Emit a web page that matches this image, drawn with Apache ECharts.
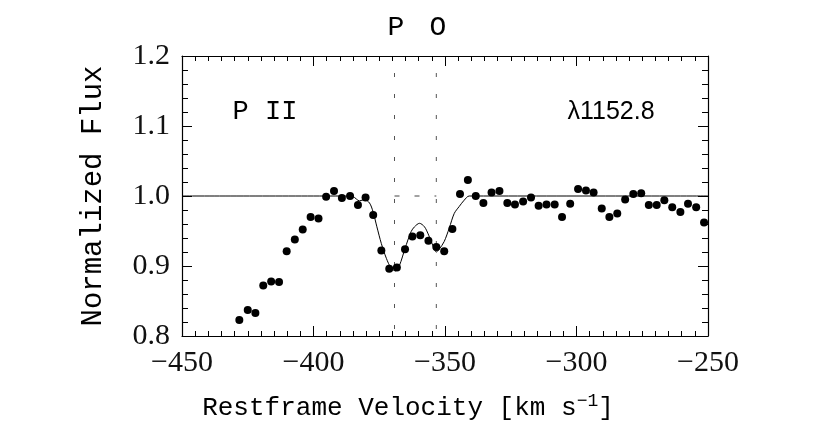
<!DOCTYPE html>
<html>
<head>
<meta charset="utf-8">
<script src="https://cdn.jsdelivr.net/npm/echarts@6/dist/echarts.min.js"></script>
<style>
  html, body { margin: 0; padding: 0; background: #fff; }
  #chart { width: 827px; height: 425px; }
</style>
</head>
<body>
<div id="chart"></div>
<script>
// measured points (velocity km/s, normalized flux)
var pointVel = [-428.2, -425.0, -422.1, -419.1, -416.1, -413.1, -410.2, -407.1, -404.1, -401.1,
    -398.1, -395.2, -392.2, -389.2, -386.1, -383.1, -380.2, -377.3, -374.2, -371.2,
    -368.3, -365.2, -362.4, -359.4, -356.3, -353.3, -350.3, -347.2, -344.3, -341.3,
    -338.3, -335.4, -332.3, -329.3, -326.3, -323.4, -320.3, -317.3, -314.4, -311.4,
    -308.3, -305.5, -302.4, -299.4, -296.4, -293.5, -290.4, -287.5, -284.5, -281.5,
    -278.4, -275.4, -272.5, -269.5, -266.6, -263.6, -260.5, -257.6, -254.5, -251.5]
var pointFlux = [0.823, 0.837, 0.833, 0.872, 0.878, 0.877, 0.921, 0.938, 0.952, 0.970,
    0.968, 0.999, 1.007, 0.997, 1.000, 0.987, 0.998, 0.973, 0.922, 0.896,
    0.898, 0.924, 0.942, 0.944, 0.936, 0.927, 0.921, 0.953, 1.003, 1.023,
    1.000, 0.990, 1.005, 1.007, 0.990, 0.988, 0.992, 0.998, 0.986, 0.988,
    0.988, 0.970, 0.989, 1.010, 1.008, 1.005, 0.982, 0.970, 0.975, 0.995,
    1.003, 1.004, 0.987, 0.987, 0.994, 0.984, 0.977, 0.989, 0.984, 0.962]

// model fit profile
var fitVel = [-450, -390, -385, -382.5, -380.6, -378.7, -377.4, -375.9, -374.2, -372.3,
    -370.5, -368.8, -367.3, -365.2, -362.9, -361.6, -359.7, -357.8, -356.2, -354.7,
    -353.3, -352.2, -350.3, -348.4, -346.5, -344.6, -342.7, -340.8, -250]
var fitFlux = [1, 1, 0.999, 0.993, 0.995, 0.990, 0.978, 0.956, 0.932, 0.911,
    0.897, 0.893, 0.901, 0.925, 0.949, 0.956, 0.961, 0.956, 0.944, 0.930,
    0.920, 0.924, 0.935, 0.954, 0.975, 0.985, 0.994, 1, 1]

// component velocities (dashed markers)
var compVel = [-369.2, -353.3]
var compNames = ['P', 'O']

var xRange = [-450, -250]
var yRange = [0.8, 1.2]

var chart = echarts.init(document.getElementById('chart'))

function zip(a, b) {
    return a.map(function (v, i) { return [v, b[i]] })
}

var axisLineStyle = { color: '#000', width: 1.2 }
var monoFont = 'Liberation Mono'

function xAxisDef(pos, showLabel) {
    return {
        type: 'value',
        position: pos,
        min: xRange[0],
        max: xRange[1],
        interval: 50,
        axisLine: { show: true, onZero: false, lineStyle: axisLineStyle },
        axisTick: { show: true, inside: true, length: 10, lineStyle: { color: '#000', width: 1 } },
        minorTick: { show: true, splitNumber: 10, length: 5, lineStyle: { color: '#000', width: 1 } },
        splitLine: { show: false },
        axisLabel: {
            show: showLabel,
            margin: 12,
            fontFamily: 'Liberation Serif',
            fontSize: 30,
            color: '#111',
            formatter: function (v) { return v < 0 ? '\u2212' + Math.abs(v) : String(v) },
        },
    }
}

function yAxisDef(pos, showLabel) {
    return {
        type: 'value',
        position: pos,
        min: yRange[0],
        max: yRange[1],
        interval: 0.1,
        axisLine: { show: true, onZero: false, lineStyle: axisLineStyle },
        axisTick: { show: true, inside: true, length: 10, lineStyle: { color: '#000', width: 1 } },
        minorTick: { show: true, splitNumber: 5, length: 6, lineStyle: { color: '#000', width: 1 } },
        splitLine: { show: false },
        axisLabel: {
            show: showLabel,
            margin: 12,
            fontFamily: 'Liberation Serif',
            fontSize: 30,
            color: '#111',
            formatter: function (v) { return v.toFixed(1) },
        },
    }
}

var series = [
    {
        name: 'fit',
        type: 'line',
        data: zip(fitVel, fitFlux),
        smooth: 0.3,
        showSymbol: false,
        lineStyle: { color: '#000', width: 1 },
        z: 2,
    },
    {
        name: 'continuum',
        type: 'line',
        data: [[compVel[0], 1], [compVel[1], 1]],
        showSymbol: false,
        lineStyle: { color: '#444', width: 1, type: [5, 15] },
        z: 2,
    },
    {
        name: 'points',
        type: 'scatter',
        data: zip(pointVel, pointFlux),
        symbol: 'circle',
        symbolSize: 8,
        itemStyle: { color: '#000', opacity: 1 },
        z: 3,
    },
]
compVel.forEach(function (v) {
    series.push({
        type: 'line',
        data: [[v, yRange[0]], [v, yRange[1]]],
        showSymbol: false,
        lineStyle: { color: '#555', width: 1, type: [4, 17], dashOffset: 14 },
        z: 1,
    })
})

var option = {
    animation: false,
    backgroundColor: '#fff',
    grid: { left: 182, right: 119, top: 56, bottom: 89 },
    xAxis: [xAxisDef('bottom', true), xAxisDef('top', false)],
    yAxis: [yAxisDef('left', true), yAxisDef('right', false)],
    series: series,
    graphic: [
        {
            type: 'text', x: 408, y: 408,
            style: {
                align: 'center', verticalAlign: 'middle',
                text: 'Restframe Velocity [km s{sup|\u22121}]',
                font: '26px ' + monoFont, fill: '#000',
                rich: { sup: { fontFamily: monoFont, fontSize: 18, verticalAlign: 'top', padding: [0, 0, 13, 0] } },
            },
        },
        {
            type: 'text', rotation: Math.PI / 2, x: 93, y: 196,
            style: {
                text: 'Normalized Flux', align: 'center', verticalAlign: 'middle',
                font: '29px ' + monoFont, fill: '#000',
            },
        },
        {
            type: 'text', x: 265, y: 112,
            style: { text: 'P II', align: 'center', verticalAlign: 'middle', font: '27px ' + monoFont, fill: '#000' },
        },
        {
            type: 'text', x: 611, y: 112,
            style: { text: '\u03bb1152.8', align: 'center', verticalAlign: 'middle', font: '25px Liberation Sans', fill: '#000' },
        },
        {
            type: 'text', x: 396, y: 28,
            style: { text: compNames[0], align: 'center', verticalAlign: 'middle', font: '28px ' + monoFont, fill: '#000' },
        },
        {
            type: 'text', x: 438, y: 28,
            style: { text: compNames[1], align: 'center', verticalAlign: 'middle', font: '28px ' + monoFont, fill: '#000' },
        },
    ],
}

chart.setOption(option)
</script>
</body>
</html>
